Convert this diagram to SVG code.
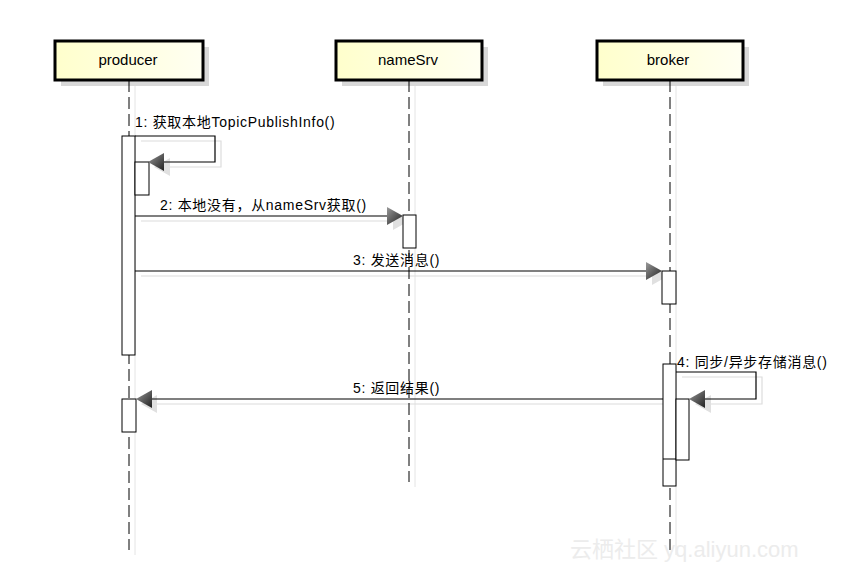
<svg xmlns="http://www.w3.org/2000/svg" width="864" height="572" viewBox="0 0 864 572">
<defs>
<linearGradient id="boxg" x1="0" y1="0" x2="1" y2="0"><stop offset="0" stop-color="#ffffcc"/><stop offset="1" stop-color="#fffff2"/></linearGradient>
<linearGradient id="arrg" x1="0" y1="0" x2="1" y2="1"><stop offset="0" stop-color="#9a9a9a"/><stop offset="1" stop-color="#202020"/></linearGradient>
<style>
.box{fill:url(#boxg);stroke:#000;stroke-width:3}
.shadow{fill:#d8d8d8;stroke:none}
.lbl{font-family:"Liberation Sans","Noto Sans CJK SC",sans-serif;font-size:15px;fill:#000}
.msg{font-family:"Liberation Sans","Noto Sans CJK SC",sans-serif;font-size:14px;letter-spacing:0.7px;fill:#000}
.life{stroke:#000;stroke-width:1;stroke-dasharray:12,5;fill:none}
.lifes{stroke:#e4e4e4;stroke-width:1;fill:none}
.act{fill:#fff;stroke:#000;stroke-width:1}
.line{stroke:#000;stroke-width:1.2;fill:none}
.lines{stroke:#dcdcdc;stroke-width:1.2;fill:none}
.head{fill:url(#arrg);stroke:none}
.heads{fill:#e0e0e0;stroke:none}
</style>
</defs>
<rect width="864" height="572" fill="#fff"/>
<g id="shadows">
<line class="lifes" x1="135" y1="85" x2="135" y2="555"/>
<line class="lifes" x1="415" y1="85" x2="415" y2="487"/>
<line class="lifes" x1="676" y1="85" x2="676" y2="555"/>
<polyline class="lines" points="141,141 221,141 221,167 160,167"/>
<line class="lines" x1="141" y1="221" x2="400" y2="221"/>
<line class="lines" x1="141" y1="276" x2="660" y2="276"/>
<polyline class="lines" points="682,377 762,377 762,404 700,404"/>
<line class="lines" x1="150" y1="404" x2="668" y2="404"/>
<polygon class="heads" points="154,167 170,158 170,176"/>
<polygon class="heads" points="409,221 393,212 393,230"/>
<polygon class="heads" points="668,276 652,267 652,285"/>
<polygon class="heads" points="695,404 711,395 711,413"/>
<polygon class="heads" points="141,404 157,395 157,413"/>
</g>
<g id="producer">
<rect class="shadow" x="61" y="47" width="148" height="39"/>
<rect class="box" x="55" y="41" width="148" height="39"/>
<text class="lbl" x="128" y="65" text-anchor="middle">producer</text>
<line class="life" x1="129" y1="80" x2="129" y2="550"/>
</g>
<g id="nameSrv">
<rect class="shadow" x="342" y="47" width="146" height="39"/>
<rect class="box" x="336" y="41" width="146" height="39"/>
<text class="lbl" x="408" y="65" text-anchor="middle">nameSrv</text>
<line class="life" x1="409" y1="80" x2="409" y2="482"/>
</g>
<g id="broker">
<rect class="shadow" x="603" y="47" width="146" height="39"/>
<rect class="box" x="597" y="41" width="146" height="39"/>
<text class="lbl" x="668" y="65" text-anchor="middle">broker</text>
<line class="life" x1="670" y1="80" x2="670" y2="550"/>
</g>
<g id="activations">
<rect class="act" x="122" y="136" width="13" height="219"/>
<rect class="act" x="135" y="162" width="14" height="33"/>
<rect class="act" x="403" y="215" width="13" height="33"/>
<rect class="act" x="662" y="271" width="14" height="33"/>
<rect class="act" x="663" y="364" width="13" height="122"/>
<rect class="act" x="676" y="399" width="13" height="61"/>
<line class="line" x1="663" y1="459" x2="676" y2="459" style="stroke-width:1"/>
<rect class="act" x="122" y="399" width="14" height="33"/>
</g>
<g id="connectors">
<polyline class="line" points="135,136 215,136 215,162 160,162"/>
<polygon class="head" points="148,162 164,153 164,171"/>
<text class="msg" x="135" y="127">1: 获取本地TopicPublishInfo()</text>
<line class="line" x1="135" y1="216" x2="392" y2="216"/>
<polygon class="head" points="403,216 387,207 387,225"/>
<text class="msg" x="160" y="210">2: 本地没有，从nameSrv获取()</text>
<line class="line" x1="135" y1="271" x2="650" y2="271"/>
<polygon class="head" points="662,271 646,262 646,280"/>
<text class="msg" x="353" y="265">3: 发送消息()</text>
<polyline class="line" points="676,372 756,372 756,399 700,399"/>
<polygon class="head" points="689,399 705,390 705,408"/>
<text class="msg" x="677" y="367">4: 同步/异步存储消息()</text>
<line class="line" x1="663" y1="399" x2="147" y2="399"/>
<polygon class="head" points="136,399 152,390 152,408"/>
<text class="msg" x="353" y="393">5: 返回结果()</text>
</g>
<text x="570" y="557" font-family="Liberation Sans,'Noto Sans CJK SC',sans-serif" font-size="22" fill="#ececec">云栖社区 yq.aliyun.com</text>
</svg>
